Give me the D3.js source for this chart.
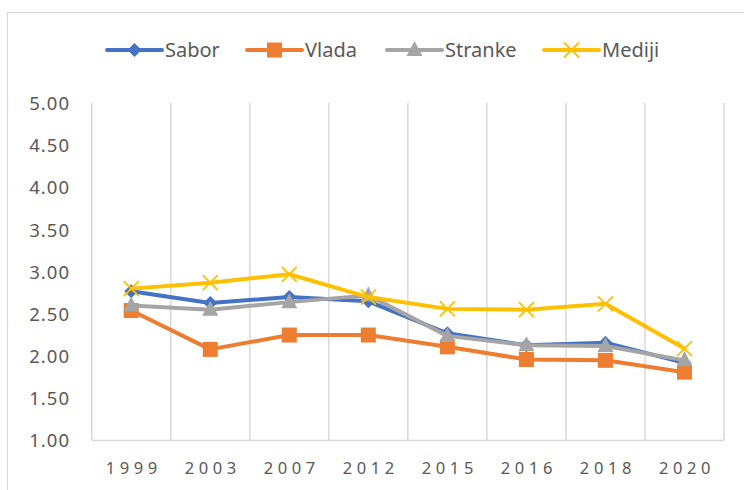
<!DOCTYPE html>
<html><head><meta charset="utf-8">
<script src="https://cdn.jsdelivr.net/npm/d3@7"></script>
<style>body{margin:0;background:#fff;} svg{display:block;}</style>
</head><body>
<svg id="c" width="744" height="490"></svg>
<script>
const years = ["1999","2003","2007","2012","2015","2016","2018","2020"];
const sabor   = [2.77, 2.63, 2.70, 2.65, 2.27, 2.13, 2.16, 1.92];
const vlada   = [2.54, 2.08, 2.25, 2.25, 2.11, 1.96, 1.95, 1.81];
const stranke = [2.60, 2.55, 2.64, 2.72, 2.24, 2.13, 2.12, 1.95];
const mediji  = [2.80, 2.87, 2.97, 2.70, 2.56, 2.55, 2.62, 2.09];
const yTicks = [1, 1.5, 2, 2.5, 3, 3.5, 4, 4.5, 5];
const seriesNames = ["Sabor","Vlada","Stranke","Mediji"];
const seriesData = [sabor, vlada, stranke, mediji];
const colors = ["#4472C4","#ED7D31","#A5A5A5","#FFC000"];
const markers = ["diamond","square","triangle","x"];

const svg = d3.select("#c");
const font = "'Noto Sans', 'Liberation Sans', sans-serif";

// outer border
svg.append("rect").attr("x",7.5).attr("y",12.5).attr("width",760).attr("height",500)
  .attr("fill","none").attr("stroke","#d9d9d9").attr("stroke-width",1.2);

const x = d3.scaleBand().domain(years).range([91.7, 724]);
const y = d3.scaleLinear().domain([1,5]).range([440.5, 103]);

// vertical gridlines at category boundaries
const bounds = years.map(d=>x(d)).concat([x.range()[1]]);
svg.append("g").selectAll("line").data(bounds).join("line")
  .attr("x1",d=>d).attr("x2",d=>d).attr("y1",y(5)).attr("y2",y(1))
  .attr("stroke","#d9d9d9").attr("stroke-width",1.5);

// x axis line
svg.append("line").attr("x1",x.range()[0]).attr("x2",x.range()[1])
  .attr("y1",y(1)).attr("y2",y(1)).attr("stroke","#d9d9d9").attr("stroke-width",1.5);

// y axis labels
const yAxis = d3.axisLeft(y).tickValues(yTicks).tickFormat(d3.format(".2f")).tickSize(0).tickPadding(0);
const gy = svg.append("g").attr("transform","translate(70,0)").call(yAxis);
gy.select(".domain").remove();
gy.selectAll("text").attr("fill","#595959").style("font-family",font).style("font-size","18.5px")
  .attr("dy","0.35em").style("letter-spacing","1px");

// x axis labels
const xAxis = d3.axisBottom(x).tickSize(0).tickPadding(0);
const gx = svg.append("g").attr("transform","translate(2.5,462)").call(xAxis);
gx.select(".domain").remove();
gx.selectAll("text").attr("fill","#595959").style("font-family",font).style("font-size","16.5px")
  .attr("dy","0.71em").style("letter-spacing","4.6px");

function drawMarker(g, type, cx, cy, color){
  if(type==="diamond"){
    g.append("path").attr("d",`M${cx},${cy-7}L${cx+7},${cy}L${cx},${cy+7}L${cx-7},${cy}Z`).attr("fill",color);
  } else if(type==="square"){
    g.append("rect").attr("x",cx-7.5).attr("y",cy-7.5).attr("width",15).attr("height",15).attr("fill",color);
  } else if(type==="triangle"){
    g.append("path").attr("d",`M${cx},${cy-9}L${cx+8},${cy+6}L${cx-8},${cy+6}Z`).attr("fill",color);
  } else {
    g.append("path").attr("d",`M${cx-7.5},${cy-7.5}L${cx+7.5},${cy+7.5}M${cx+7.5},${cy-7.5}L${cx-7.5},${cy+7.5}`)
      .attr("stroke",color).attr("stroke-width",1.8).attr("fill","none");
  }
}

const line = d3.line().x((d,i)=>x(years[i])+x.bandwidth()/2).y(d=>y(d));
seriesData.forEach((vals,si)=>{
  const g = svg.append("g");
  g.append("path").datum(vals).attr("d",line).attr("fill","none")
    .attr("stroke",colors[si]).attr("stroke-width",4).attr("stroke-linejoin","round").attr("stroke-linecap","round");
  vals.forEach((v,i)=>drawMarker(g, markers[si], x(years[i])+x.bandwidth()/2, y(v), colors[si]));
});

// legend
const legX = [107, 247, 387, 544];
const leg = svg.append("g");
seriesNames.forEach((n,i)=>{
  const g = leg.append("g");
  g.append("line").attr("x1",legX[i]).attr("x2",legX[i]+55).attr("y1",50).attr("y2",50)
    .attr("stroke",colors[i]).attr("stroke-width",4).attr("stroke-linecap","round");
  drawMarker(g, markers[i], legX[i]+27.5, 50, colors[i]);
  g.append("text").attr("x",legX[i]+58).attr("y",50).attr("dy","0.35em")
    .attr("fill","#595959").style("font-family",font).style("font-size","20px").text(n);
});
</script>
</body></html>
